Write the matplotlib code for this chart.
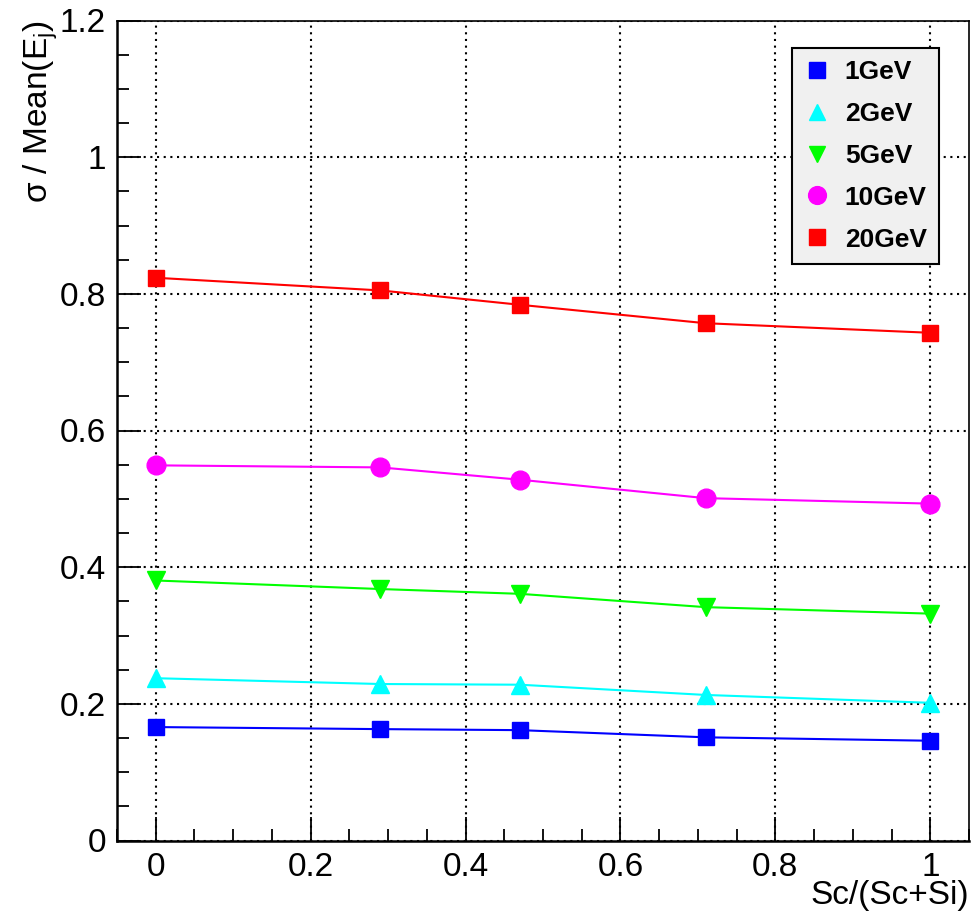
import numpy as np
import matplotlib
matplotlib.use("Agg")
import matplotlib.pyplot as plt

plt.rcParams['font.family'] = ['Liberation Sans', 'DejaVu Sans']
plt.rcParams['mathtext.fontset'] = 'custom'
plt.rcParams['mathtext.rm'] = 'Liberation Sans'
plt.rcParams['mathtext.it'] = 'Liberation Sans:italic'

# Sc fraction scan and energy resolution per beam energy
frac = [0.0, 0.29, 0.47, 0.71, 1.0]
res_1gev = [0.166, 0.163, 0.1615, 0.151, 0.146]
res_2gev = [0.2375, 0.229, 0.228, 0.213, 0.2015]
res_5gev = [0.3805, 0.368, 0.361, 0.3415, 0.332]
res_10gev = [0.549, 0.546, 0.528, 0.501, 0.493]
res_20gev = [0.8235, 0.805, 0.784, 0.757, 0.743]

labels = ["1GeV", "2GeV", "5GeV", "10GeV", "20GeV"]
colors = ["#0000ff", "#00ffff", "#00ff00", "#ff00ff", "#ff0000"]
markers = ["s", "^", "v", "o", "s"]
msizes = [12, 12.5, 12.5, 13.5, 12]

fig = plt.figure(figsize=(9.73, 9.14), dpi=100)
ax = fig.add_axes([117/973, 1 - 840.5/914, (969 - 117)/973, (840.5 - 20.5)/914])

series = [res_1gev, res_2gev, res_5gev, res_10gev, res_20gev]
for ys, c, m, ms, lab in zip(series, colors, markers, msizes, labels):
    ax.plot(frac, ys, color=c, lw=1.5, zorder=3)
    ax.plot(frac, ys, ls='none', marker=m, ms=ms, color=c, mec=c, label=lab, zorder=4)

ax.set_xlim(-0.05, 1.05)
ax.set_ylim(0, 1.2)
ax.set_xticks(np.arange(0, 1.01, 0.2))
ax.set_xticklabels(["0", "0.2", "0.4", "0.6", "0.8", "1"])
ax.set_yticks(np.arange(0, 1.21, 0.2))
ax.set_yticklabels(["0", "0.2", "0.4", "0.6", "0.8", "1", "1.2"])
ax.set_xticks(np.arange(-0.05, 1.051, 0.05), minor=True)
ax.set_yticks(np.arange(0, 1.21, 0.05), minor=True)

ax.tick_params(which='both', direction='in', top=False, right=False, labelsize=24, width=1.3)
ax.tick_params(which='major', length=17, pad=8)
ax.tick_params(which='minor', length=8.5)

ax.grid(True, which='major', color='black', ls=(0, (1, 2.2)), lw=1.5, zorder=1)

for side in ['left', 'bottom']:
    ax.spines[side].set_linewidth(1.8)
for side in ['top', 'right']:
    ax.spines[side].set_linewidth(1.2)

ax.set_xlabel("Sc/(Sc+Si)", fontsize=24, loc='right', labelpad=-2)
ax.set_ylabel(r"σ / Mean(E$_{\mathrm{j}}$)", fontsize=24, loc='top', labelpad=0)

leg = ax.legend(loc='upper left', bbox_to_anchor=(792/973, 1 - 48/914),
                bbox_transform=fig.transFigure, borderaxespad=0,
                prop={'weight': 'bold', 'size': 19}, fancybox=False,
                facecolor='#f0f0f0', edgecolor='black', framealpha=1,
                handlelength=1.0, handletextpad=0.55, labelspacing=0.68,
                borderpad=0.45, markerscale=0.95)
leg.get_frame().set_linewidth(1.5)

fig.savefig("out.png", dpi=100)
